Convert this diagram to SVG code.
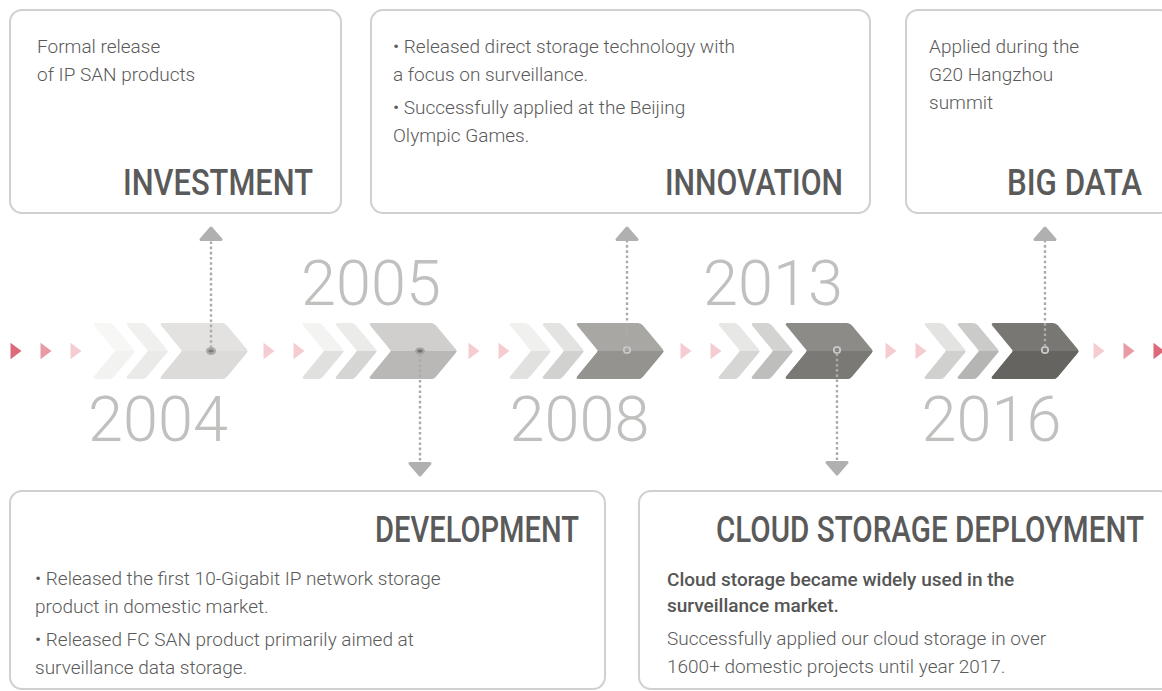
<svg xmlns="http://www.w3.org/2000/svg" width="1162" height="691" viewBox="0 0 1162 691">
<style>
.box{fill:#fff;stroke:#d0d0d0;stroke-width:2}
.body{font-family:Roboto,"Liberation Sans",sans-serif;font-size:19px;font-weight:300;fill:#5a5a5a}
.strong{font-weight:500;fill:#555}
.head{font-family:Roboto,"Liberation Sans",sans-serif;font-size:36px;font-weight:500;fill:#5a5a5a}
.year{font-family:Roboto,"Liberation Sans",sans-serif;font-size:63px;font-weight:300;fill:#c0c0be;text-anchor:middle}
.dots{stroke:#ababab;stroke-width:2.4;stroke-dasharray:2.6 2.6;fill:none;marker-end:url(#tip)}
.ring{fill:none;stroke:#c8c8c8;stroke-width:1.8}
.pale{fill:#f5ccd2}
.mid{fill:#e89ba5}
.dark{fill:#dd6a7a}
</style>
<defs>
<path id="sm" d="M4,323 H17 Q20,323 22,325.5 L42,349.6 Q43,351 42,352.4 L22,376.5 Q20,379 17,379 H4 Q0.5,379 2.2,376.5 L22.3,352 Q23,351 22.3,350 L2.2,325.5 Q0.5,323 4,323 Z"/>
<path id="bg" d="M4,323 H63 Q66,323 68,325.5 L88,349.6 Q89,351 88,352.4 L68,376.5 Q66,379 63,379 H4 Q0.5,379 2.2,376.5 L22.3,352 Q23,351 22.3,350 L2.2,325.5 Q0.5,323 4,323 Z"/>
<path id="tri" d="M0.5,342.8 L11.5,351 L0.5,359.2 Z"/>
<clipPath id="lo" clipPathUnits="userSpaceOnUse"><rect x="-2000" y="351" width="5000" height="40"/></clipPath>
<marker id="tip" viewBox="0 -12 16 24" markerWidth="16" markerHeight="24" refX="0" refY="0" orient="auto" markerUnits="userSpaceOnUse" overflow="visible">
<path d="M1.5,-10 L13,0 L1.5,10 Z" fill="#b0b0b0" stroke="#b0b0b0" stroke-width="3" stroke-linejoin="round"/>
</marker>
</defs>

<g id="node-investment">
<rect class="box" x="10" y="10" width="331" height="203" rx="12"/>
<text class="body" x="37" y="53">Formal release</text>
<text class="body" x="37" y="81">of IP SAN products</text>
<text class="head" x="123" y="195" textLength="190" lengthAdjust="spacingAndGlyphs">INVESTMENT</text>
</g>

<g id="node-innovation">
<rect class="box" x="371" y="10" width="499" height="203" rx="12"/>
<text class="body" x="393" y="53">• Released direct storage technology with</text>
<text class="body" x="393" y="81">a focus on surveillance.</text>
<text class="body" x="393" y="114">• Successfully applied at the Beijing</text>
<text class="body" x="393" y="142">Olympic Games.</text>
<text class="head" x="665" y="195" textLength="178" lengthAdjust="spacingAndGlyphs">INNOVATION</text>
</g>

<g id="node-bigdata">
<rect class="box" x="906" y="10" width="266" height="203" rx="12"/>
<text class="body" x="929" y="53">Applied during the</text>
<text class="body" x="929" y="81">G20 Hangzhou</text>
<text class="body" x="929" y="109">summit</text>
<text class="head" x="1007" y="195" textLength="135" lengthAdjust="spacingAndGlyphs">BIG DATA</text>
</g>

<g id="node-development">
<rect class="box" x="10" y="491" width="595" height="198" rx="12"/>
<text class="head" x="375" y="542" textLength="204" lengthAdjust="spacingAndGlyphs">DEVELOPMENT</text>
<text class="body" x="35" y="585">• Released the first 10-Gigabit IP network storage</text>
<text class="body" x="35" y="613">product in domestic market.</text>
<text class="body" x="35" y="646">• Released FC SAN product primarily aimed at</text>
<text class="body" x="35" y="674">surveillance data storage.</text>
</g>

<g id="node-cloud">
<rect class="box" x="639" y="491" width="533" height="198" rx="12"/>
<text class="head" x="716" y="542" textLength="428" lengthAdjust="spacingAndGlyphs">CLOUD STORAGE DEPLOYMENT</text>
<text class="body strong" x="667" y="586">Cloud storage became widely used in the</text>
<text class="body strong" x="667" y="612">surveillance market.</text>
<text class="body" x="667" y="645">Successfully applied our cloud storage in over</text>
<text class="body" x="667" y="673">1600+ domestic projects until year 2017.</text>
</g>

<g id="timeline-arrows">
<use href="#tri" x="10" class="dark"/>
<use href="#tri" x="40" class="mid"/>
<use href="#tri" x="70" class="pale"/>
<use href="#tri" x="263" class="pale"/>
<use href="#tri" x="293" class="pale"/>
<use href="#tri" x="468" class="pale"/>
<use href="#tri" x="498" class="pale"/>
<use href="#tri" x="680" class="pale"/>
<use href="#tri" x="710" class="pale"/>
<use href="#tri" x="885" class="pale"/>
<use href="#tri" x="915" class="pale"/>
<use href="#tri" x="1093" class="pale"/>
<use href="#tri" x="1123" class="mid"/>
<use href="#tri" x="1153" class="dark"/>
</g>

<g id="node-2004">
<use href="#sm" x="92" fill="#f7f7f6"/>
<use href="#sm" x="125" fill="#f0f0ef"/>
<use href="#bg" x="159" fill="#e3e2e0"/>
<g clip-path="url(#lo)">
<use href="#sm" x="92" fill="#f2f2f1"/>
<use href="#sm" x="125" fill="#eaeae9"/>
<use href="#bg" x="159" fill="#dcdbd9"/>
</g>
<ellipse cx="211" cy="351" rx="5" ry="4" fill="#a8a8a8"/>
<ellipse cx="211" cy="351" rx="2.6" ry="1.6" fill="#7a7a7a"/>
<text class="year" x="158" y="441">2004</text>
</g>

<g id="node-2005">
<use href="#sm" x="301" fill="#f3f3f2"/>
<use href="#sm" x="334" fill="#ebebea"/>
<use href="#bg" x="368" fill="#d0cfcd"/>
<g clip-path="url(#lo)">
<use href="#sm" x="301" fill="#e0e0df"/>
<use href="#sm" x="334" fill="#d5d5d4"/>
<use href="#bg" x="368" fill="#b9b8b6"/>
</g>
<ellipse cx="420" cy="351" rx="5" ry="3.6" fill="#a3a3a3"/>
<ellipse cx="420" cy="351" rx="2.6" ry="1.5" fill="#707070"/>
<text class="year" x="371" y="305">2005</text>
</g>

<g id="node-2008">
<use href="#sm" x="508" fill="#f0f0ef"/>
<use href="#sm" x="541" fill="#e3e3e2"/>
<use href="#bg" x="575" fill="#a8a7a3"/>
<g clip-path="url(#lo)">
<use href="#sm" x="508" fill="#e1e1e0"/>
<use href="#sm" x="541" fill="#d1d1d0"/>
<use href="#bg" x="575" fill="#94938f"/>
</g>
<circle class="ring" cx="627" cy="350" r="3.2"/>
<text class="year" x="579.5" y="441">2008</text>
</g>

<g id="node-2013">
<use href="#sm" x="717" fill="#e7e7e6"/>
<use href="#sm" x="750" fill="#d3d3d2"/>
<use href="#bg" x="784" fill="#8c8b87"/>
<g clip-path="url(#lo)">
<use href="#sm" x="717" fill="#d6d6d5"/>
<use href="#sm" x="750" fill="#bebebd"/>
<use href="#bg" x="784" fill="#7a7975"/>
</g>
<circle class="ring" cx="837" cy="350" r="3.2"/>
<text class="year" x="773" y="305">2013</text>
</g>

<g id="node-2016">
<use href="#sm" x="923" fill="#e3e3e2"/>
<use href="#sm" x="956" fill="#cbcbca"/>
<use href="#bg" x="990" fill="#787773"/>
<g clip-path="url(#lo)">
<use href="#sm" x="923" fill="#d0d0cf"/>
<use href="#sm" x="956" fill="#b5b5b4"/>
<use href="#bg" x="990" fill="#666460"/>
</g>
<circle class="ring" cx="1045" cy="350" r="3.2"/>
<text class="year" x="991.5" y="441">2016</text>
</g>

<g id="connectors">
<line class="dots" x1="211" y1="348" x2="211" y2="241"/>
<line class="dots" x1="420" y1="354" x2="420" y2="462"/>
<line class="dots" x1="627" y1="346.5" x2="627" y2="241"/>
<line class="dots" x1="837" y1="353.5" x2="837" y2="461"/>
<line class="dots" x1="1045" y1="346.5" x2="1045" y2="241"/>
</g>
</svg>
